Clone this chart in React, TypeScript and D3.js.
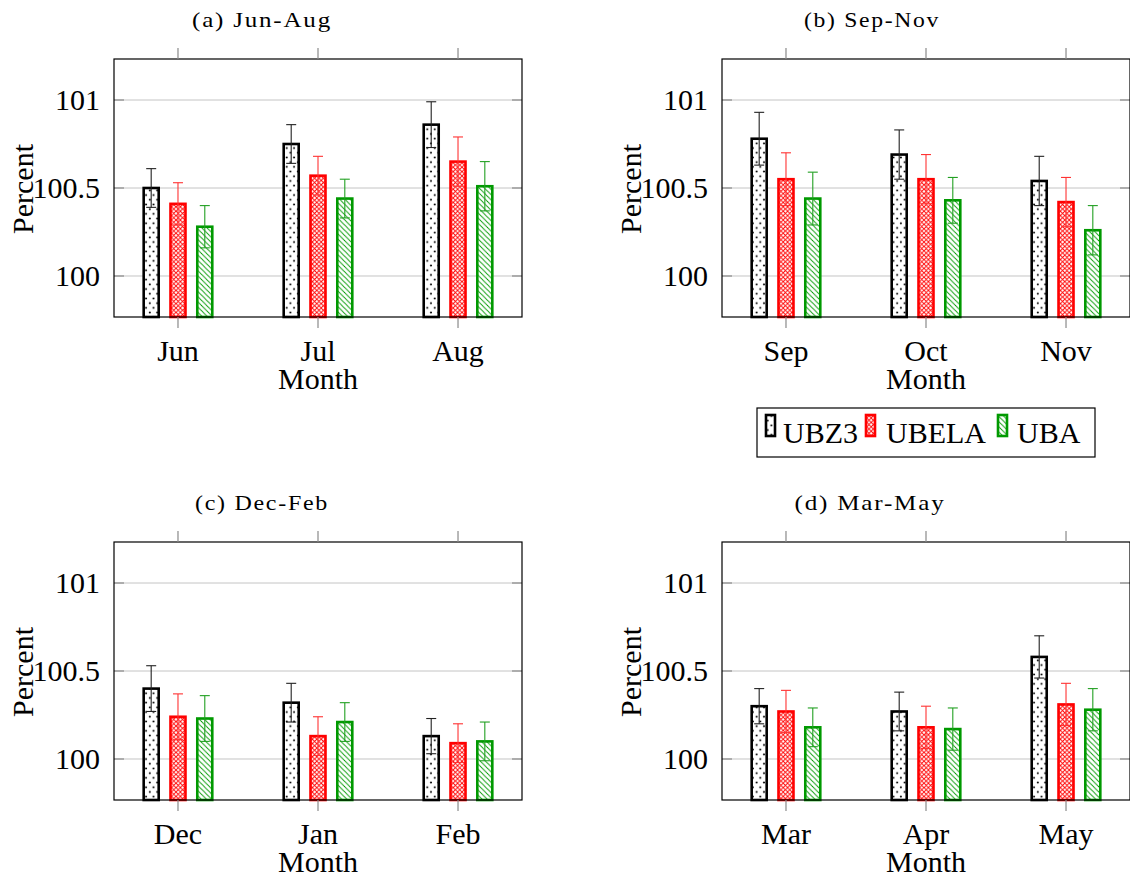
import React from "react";
import * as d3 from "d3";

// Series and categories
const seriesNames = ["UBZ3", "UBELA", "UBA"];
const seriesColors = ["#000000", "#ff0000", "#009900"];
const errorColors = ["#222222", "#ff3333", "#22a022"];
const seriesPatterns = ["pat-dots", "pat-cross", "pat-nwlines"];

const panelTitles = ["(a) Jun-Aug", "(b) Sep-Nov", "(c) Dec-Feb", "(d) Mar-May"];
const panelMonths = [
  ["Jun", "Jul", "Aug"],
  ["Sep", "Oct", "Nov"],
  ["Dec", "Jan", "Feb"],
  ["Mar", "Apr", "May"],
];

// Mean values (percent) per panel, per month
const ubz3Values = [
  [100.5, 100.75, 100.86],
  [100.78, 100.69, 100.54],
  [100.4, 100.32, 100.13],
  [100.3, 100.27, 100.58],
];
const ubelaValues = [
  [100.41, 100.57, 100.65],
  [100.55, 100.55, 100.42],
  [100.24, 100.13, 100.09],
  [100.27, 100.18, 100.31],
];
const ubaValues = [
  [100.28, 100.44, 100.51],
  [100.44, 100.43, 100.26],
  [100.23, 100.21, 100.1],
  [100.18, 100.17, 100.28],
];

// Symmetric error half-widths
const ubz3Errors = [
  [0.11, 0.11, 0.13],
  [0.15, 0.14, 0.14],
  [0.13, 0.11, 0.1],
  [0.1, 0.11, 0.12],
];
const ubelaErrors = [
  [0.12, 0.11, 0.14],
  [0.15, 0.14, 0.14],
  [0.13, 0.11, 0.11],
  [0.12, 0.12, 0.12],
];
const ubaErrors = [
  [0.12, 0.11, 0.14],
  [0.15, 0.13, 0.14],
  [0.13, 0.11, 0.11],
  [0.11, 0.12, 0.12],
];

const yTicks = [100, 100.5, 101];
const yDomain = [99.767, 101.233];
const xLabel = "Month";
const yLabel = "Percent";

const allValues = [ubz3Values, ubelaValues, ubaValues];
const allErrors = [ubz3Errors, ubelaErrors, ubaErrors];

const FONT = "Liberation Serif, Times New Roman, serif";

// Panel frames: left, top, width, height, title anchor
const panelBoxes = [
  { x: 114, y: 59, w: 408, h: 258, tx: 262, ty: 27, tw: 140 },
  { x: 722, y: 59, w: 408, h: 258, tx: 872, ty: 27, tw: 136 },
  { x: 114, y: 542, w: 408, h: 258, tx: 262, ty: 510, tw: 134 },
  { x: 722, y: 542, w: 408, h: 258, tx: 870, ty: 510, tw: 151 },
];

function Panel({ idx }: { idx: number }) {
  const b = panelBoxes[idx];
  const months = panelMonths[idx];
  const x = d3
    .scalePoint<string>()
    .domain(months)
    .range([b.x, b.x + b.w])
    .padding(0.457);
  const y = d3.scaleLinear().domain(yDomain).range([b.y + b.h, b.y]);
  const shift = d3.scalePoint<string>().domain(seriesNames).range([-26.8, 26.8]);
  const barW = 15;
  const capW = 10;
  const bottom = y(yDomain[0]);

  return (
    <g>
      <text
        x={b.tx}
        y={b.ty}
        fontFamily={FONT}
        fontSize={21}
        letterSpacing={1.5}
        textAnchor="middle"
        textLength={b.tw}
        lengthAdjust="spacingAndGlyphs"
      >
        {panelTitles[idx]}
      </text>

      {/* grid lines */}
      {yTicks.map((t) => (
        <line
          key={"g" + t}
          x1={b.x}
          x2={b.x + b.w}
          y1={y(t)}
          y2={y(t)}
          stroke="#c4c4c4"
          strokeWidth={1}
        />
      ))}
      {/* y tick marks and labels */}
      {yTicks.map((t) => (
        <g key={"yt" + t}>
          <line x1={b.x} x2={b.x + 10} y1={y(t)} y2={y(t)} stroke="#8a8a8a" strokeWidth={1.2} />
          <line x1={b.x + b.w - 10} x2={b.x + b.w} y1={y(t)} y2={y(t)} stroke="#8a8a8a" strokeWidth={1.2} />
          <text
            x={b.x - 14}
            y={y(t)}
            dy="0.34em"
            fontFamily={FONT}
            fontSize={30}
            textAnchor="end"
          >
            {t === 100.5 ? "100.5" : String(t)}
          </text>
        </g>
      ))}

      {/* bars */}
      {seriesNames.map((s, si) =>
        months.map((m, mi) => {
          const v = allValues[si][idx][mi];
          const cx = (x(m) as number) + (shift(s) as number);
          return (
            <rect
              key={s + m}
              x={cx - barW / 2}
              y={y(v)}
              width={barW}
              height={bottom - y(v)}
              fill={`url(#${seriesPatterns[si]})`}
              stroke={seriesColors[si]}
              strokeWidth={2.6}
            />
          );
        })
      )}

      {/* error bars */}
      {seriesNames.map((s, si) =>
        months.map((m, mi) => {
          const v = allValues[si][idx][mi];
          const e = allErrors[si][idx][mi];
          const cx = (x(m) as number) + (shift(s) as number);
          const c = errorColors[si];
          return (
            <g key={"e" + s + m} stroke={c} strokeWidth={1.1}>
              <line x1={cx} x2={cx} y1={y(v + e)} y2={y(v - e)} />
              <line x1={cx - capW / 2} x2={cx + capW / 2} y1={y(v + e)} y2={y(v + e)} />
              <line x1={cx - capW / 2} x2={cx + capW / 2} y1={y(v - e)} y2={y(v - e)} />
            </g>
          );
        })
      )}

      {/* frame */}
      <rect x={b.x} y={b.y} width={b.w} height={b.h} fill="none" stroke="#000" strokeWidth={1.2} />

      {/* x ticks and labels */}
      {months.map((m) => (
        <g key={"xt" + m}>
          <line x1={x(m)} x2={x(m)} y1={b.y - 11} y2={b.y} stroke="#8a8a8a" strokeWidth={1.2} />
          <line x1={x(m)} x2={x(m)} y1={b.y + b.h} y2={b.y + b.h + 11} stroke="#8a8a8a" strokeWidth={1.2} />
          <text x={x(m)} y={b.y + b.h + 44} fontFamily={FONT} fontSize={30} textAnchor="middle">
            {m}
          </text>
        </g>
      ))}
      <text
        x={b.x + b.w / 2}
        y={b.y + b.h + 72}
        fontFamily={FONT}
        fontSize={30}
        textAnchor="middle"
      >
        {xLabel}
      </text>
      <text
        transform={`translate(${b.x - 81},${b.y + b.h / 2 + 1}) rotate(-90)`}
        fontFamily={FONT}
        fontSize={30}
        textAnchor="middle"
      >
        {yLabel}
      </text>
    </g>
  );
}

function Legend() {
  const items = [
    { iconX: 766, textX: 783 },
    { iconX: 866, textX: 886 },
    { iconX: 998, textX: 1017 },
  ];
  return (
    <g>
      <rect x={757} y={408} width={338} height={49} fill="#fff" stroke="#000" strokeWidth={1.2} />
      {seriesNames.map((s, si) => (
        <g key={"lg" + s}>
          <rect
            x={items[si].iconX}
            y={415}
            width={9}
            height={21}
            fill={`url(#${seriesPatterns[si]})`}
            stroke={seriesColors[si]}
            strokeWidth={2.6}
          />
          <text x={items[si].textX} y={443} fontFamily={FONT} fontSize={30}>
            {s}
          </text>
        </g>
      ))}
    </g>
  );
}

export default function App() {
  return (
    <svg
      width={1130}
      height={877}
      style={{ position: "absolute", left: 0, top: 0, background: "#fff" }}
    >
      <defs>
        <pattern id="pat-dots" patternUnits="userSpaceOnUse" width={7.4} height={9.4}>
          <rect width={7.4} height={9.4} fill="#fff" />
          <circle cx={1.8} cy={2.35} r={1.05} fill="#000" />
          <circle cx={5.5} cy={7.05} r={1.05} fill="#000" />
        </pattern>
        <pattern id="pat-cross" patternUnits="userSpaceOnUse" width={4.4} height={4.4}>
          <rect width={4.4} height={4.4} fill="#fff" />
          <path d="M-0.5,-0.5 L4.9,4.9 M-0.5,4.9 L4.9,-0.5" stroke="#ff0000" strokeWidth={0.9} />
        </pattern>
        <pattern id="pat-nwlines" patternUnits="userSpaceOnUse" width={5.2} height={5.2}>
          <rect width={5.2} height={5.2} fill="#fff" />
          <path d="M-1,-1 L6.2,6.2 M-1,4.2 L1,6.2 M4.2,-1 L6.2,1" stroke="#009900" strokeWidth={0.9} />
        </pattern>
      </defs>
      <rect width={1130} height={877} fill="#fff" />
      {panelBoxes.map((_, i) => (
        <Panel key={i} idx={i} />
      ))}
      <Legend />
    </svg>
  );
}
